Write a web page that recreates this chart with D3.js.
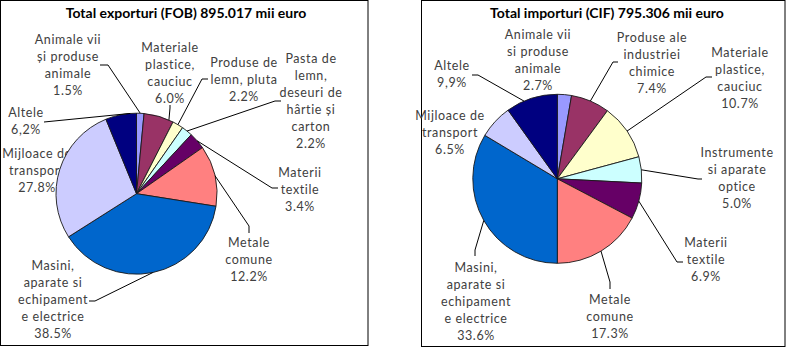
<!DOCTYPE html>
<html>
<head>
<meta charset="utf-8">
<script src="https://cdn.jsdelivr.net/npm/d3@7"></script>
<style>
  body { margin: 0; background: #fff; }
  svg { display: block; }
</style>
</head>
<body>
<div id="chart"></div>
<script>
// DATA //
var sliceColors = ['#9999FF', '#993366', '#FFFFCC', '#CCFFFF', '#660066', '#FF8080', '#0066CC', '#CCCCFF', '#000080']

var exportTitle = 'Total exporturi (FOB) 895.017 mii euro'
var exportCategories = [
  ['Animale vii', 'și produse', 'animale'],
  ['Materiale', 'plastice,', 'cauciuc'],
  ['Produse de', 'lemn, pluta'],
  ['Pasta de', 'lemn,', 'deseuri de', 'hârtie și', 'carton'],
  ['Materii', 'textile'],
  ['Metale', 'comune'],
  ['Masini,', 'aparate si', 'echipament', 'e electrice'],
  ['Mijloace de', 'transport'],
  ['Altele']
]
var exportValues = [1.5, 6.0, 2.2, 2.2, 3.4, 12.2, 38.5, 27.8, 6.2]
var exportPctText = ['1.5%', '6.0%', '2.2%', '2.2%', '3.4%', '12.2%', '38.5%', '27.8%', '6,2%']

var importTitle = 'Total importuri (CIF) 795.306 mii euro'
var importCategories = [
  ['Animale  vii', 'si produse', 'animale'],
  ['Produse ale', 'industriei', 'chimice'],
  ['Materiale', 'plastice,', 'cauciuc'],
  ['Instrumente', 'si aparate', 'optice'],
  ['Materii', 'textile'],
  ['Metale', 'comune'],
  ['Masini,', 'aparate si', 'echipament', 'e electrice'],
  ['Mijloace de', 'transport'],
  ['Altele']
]
var importValues = [2.7, 7.4, 10.7, 5.0, 6.9, 17.3, 33.6, 6.5, 9.9]
var importPctText = ['2.7%', '7.4%', '10.7%', '5.0%', '6.9%', '17.3%', '33.6%', '6.5%', '9,9%']

// LAYOUT (label anchors: centre x, first baseline, leader start + elbow, where on the slice it ends)
var exportLayout = {
  box: [0.5, 0.5, 367.5, 345], title: [186, 18], cx: 136.5, cy: 193.7, r: 80.5,
  labels: [
    {x: 68, y: 44, lead: [[100, 65], [108, 65]], t: 0.5},
    {x: 170, y: 52, lead: [[170, 105], [170, 108]], t: 0.85},
    {x: 244, y: 67, lead: [[208, 79], [202, 79]], t: 0.5},
    {x: 311, y: 63, lead: [[281, 101], [275, 101]], t: 0.5},
    {x: 300, y: 177, lead: [[278, 188], [272, 188]], t: 0.5},
    {x: 249, y: 247, lead: [[249, 233], [249, 226]], t: 0.5},
    {x: 53, y: 270, lead: [[89, 301], [95, 301]], t: 0.5},
    {x: 37, y: 158, lead: null},
    {x: 26, y: 117, lead: [[44, 122], [44, 122]], t: 0.8}
  ]
}
var importLayout = {
  box: [421.5, 0.5, 363.5, 346], title: [607, 18], cx: 557.3, cy: 178.8, r: 84.5,
  labels: [
    {x: 538, y: 39, lead: null},
    {x: 652, y: 42, lead: [[618, 62], [613, 62]], t: 0.5},
    {x: 740, y: 57, lead: [[712, 77], [706, 77]], t: 0.5},
    {x: 737, y: 157, lead: [[702, 179], [698, 179]], t: 0.5},
    {x: 706, y: 247, lead: [[683, 262], [677, 262]], t: 0.5},
    {x: 610, y: 304, lead: [[610, 289], [610, 282]], t: 0.5},
    {x: 476, y: 272, lead: [[475, 256], [475, 250]], t: 0.5},
    {x: 450, y: 120, lead: null},
    {x: 452, y: 70, lead: [[472, 75], [478, 75]], t: 0.35}
  ]
}

var lineH = 17

// CREATE DOM ELEMENTS
var svg = d3.select('#chart').append('svg')
  .attr('width', 790)
  .attr('height', 348)

var pie = d3.pie().sort(null).value(d => d)

function drawPanel(title, categories, values, pctText, layout) {
  var g = svg.append('g')

  g.append('rect')
    .attr('x', layout.box[0])
    .attr('y', layout.box[1])
    .attr('width', layout.box[2])
    .attr('height', layout.box[3])
    .attr('fill', '#fff')
    .attr('stroke', '#000')
    .attr('stroke-width', 1)

  g.append('text')
    .attr('x', layout.title[0])
    .attr('y', layout.title[1])
    .attr('text-anchor', 'middle')
    .style('font-family', 'Lato, "Liberation Sans", sans-serif')
    .style('font-weight', 'bold')
    .style('font-size', '14px')
    .style('fill', '#000')
    .text(title)

  var arcs = pie(values)

  // labels go under the pie, like in the original
  var labels = g.selectAll('.lbl')
    .data(arcs)
    .enter().append('text')
      .attr('class', 'lbl')
      .attr('text-anchor', 'middle')
      .style('font-family', 'Lato, "Liberation Sans", sans-serif')
      .style('font-size', '12.5px')
      .style('letter-spacing', '0.6px')
      .style('fill', '#404040')

  labels.each(function (d, i) {
    var lines = categories[i].concat([pctText[i]])
    var pos = layout.labels[i]
    d3.select(this).selectAll('tspan')
      .data(lines)
      .enter().append('tspan')
        .attr('x', pos.x)
        .attr('y', (s, j) => pos.y + j * lineH)
        .text(s => s)
  })

  var arc = d3.arc().innerRadius(0).outerRadius(layout.r)

  g.append('g')
    .attr('transform', 'translate(' + layout.cx + ',' + layout.cy + ')')
    .selectAll('path')
    .data(arcs)
    .enter().append('path')
      .attr('d', arc)
      .attr('fill', (d, i) => sliceColors[i])
      .attr('stroke', '#1a1a1a')
      .attr('stroke-width', 0.9)

  // leader lines, ending on the slice's outer edge
  var lead = d3.line()
  arcs.forEach(function (d, i) {
    var pos = layout.labels[i]
    if (!pos.lead) return
    var a = d.startAngle + pos.t * (d.endAngle - d.startAngle)
    var end = [layout.cx + layout.r * Math.sin(a), layout.cy - layout.r * Math.cos(a)]
    g.append('path')
      .attr('d', lead([pos.lead[0], pos.lead[1], end]))
      .attr('fill', 'none')
      .attr('stroke', '#000')
      .attr('stroke-width', 1)
  })
}

drawPanel(exportTitle, exportCategories, exportValues, exportPctText, exportLayout)
drawPanel(importTitle, importCategories, importValues, importPctText, importLayout)
</script>
</body>
</html>
